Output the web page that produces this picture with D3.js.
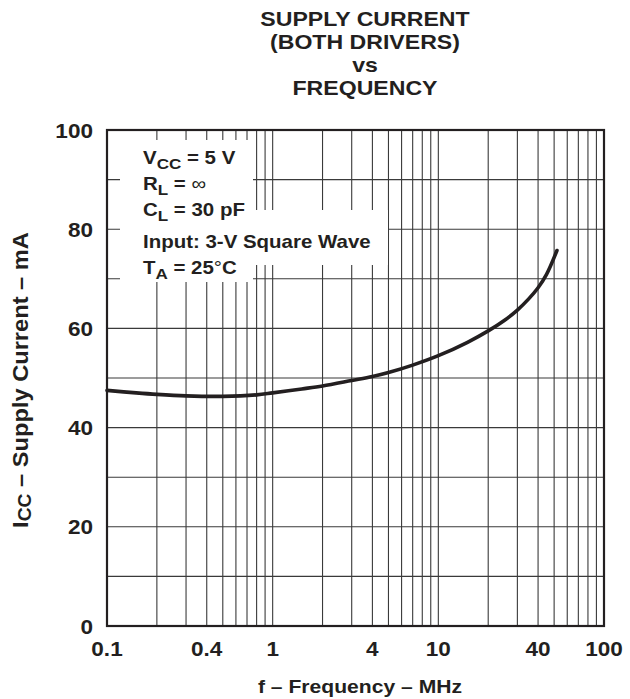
<!DOCTYPE html>
<html>
<head>
<meta charset="utf-8">
<script src="https://cdn.jsdelivr.net/npm/d3@7"></script>
<style>
  body { margin: 0; background: #fff; }
  text { font-family: "Liberation Sans", Arial, sans-serif; font-weight: bold; fill: #231f20; }
</style>
</head>
<body>
<svg width="630" height="699"></svg>
<script>
const svg = d3.select('svg');

// data
const freqMHz = [0.1, 0.15, 0.2, 0.3, 0.5, 0.8, 1, 1.5, 2, 3, 4, 5, 7, 10, 15, 20, 25, 30, 35, 40, 45, 52];
const iccMA   = [47.5, 47.0, 46.7, 46.4, 46.3, 46.6, 47.0, 47.8, 48.4, 49.5, 50.3, 51.1, 52.6, 54.5, 57.2, 59.5, 61.6, 63.7, 65.9, 68.2, 70.9, 75.7];

const xTickLabels = [0.1, 0.4, 1, 4, 10, 40, 100];
const yTickLabels = [0, 20, 40, 60, 80, 100];
const titleLines = ['SUPPLY CURRENT', '(BOTH DRIVERS)', 'vs', 'FREQUENCY'];

const margin = { top: 130, right: 26, bottom: 73, left: 107 };
const width = +svg.attr('width');
const height = +svg.attr('height');
const innerWidth = width - margin.left - margin.right;
const innerHeight = height - margin.top - margin.bottom;

const xScale = d3.scaleLog().domain([0.1, 100]).range([0, innerWidth]);
const yScale = d3.scaleLinear().domain([0, 100]).range([innerHeight, 0]);

// the source type is a bit wide: widen every text by this factor
const stretch = 1.1;
const widen = (sel) => sel.each(function() {
  const len = this.getComputedTextLength();
  d3.select(this)
    .attr('textLength', len * stretch)
    .attr('lengthAdjust', 'spacingAndGlyphs');
});

const g = svg.append('g')
  .attr('transform', `translate(${margin.left},${margin.top})`);

// grid
const vGrid = [];
[0.1, 1, 10].forEach(d => d3.range(1, 10).forEach(k => vGrid.push(k * d)));
vGrid.push(100);

g.selectAll('line.v-grid').data(vGrid).join('line')
  .attr('class', 'v-grid')
  .attr('x1', d => xScale(d)).attr('x2', d => xScale(d))
  .attr('y1', 0).attr('y2', innerHeight)
  .attr('stroke', '#3a3a3a').attr('stroke-width', 1.1);

g.selectAll('line.h-grid').data(d3.range(0, 101, 10)).join('line')
  .attr('class', 'h-grid')
  .attr('x1', 0).attr('x2', innerWidth)
  .attr('y1', d => yScale(d)).attr('y2', d => yScale(d))
  .attr('stroke', '#3a3a3a').attr('stroke-width', 1.1);

// white patch behind the conditions block
const patch = svg.append('g').attr('fill', '#fff');
patch.append('rect').attr('x', 120).attr('y', 140).attr('width', 133).attr('height', 142);
patch.append('rect').attr('x', 120).attr('y', 210).attr('width', 268).attr('height', 55);

// conditions text
const cond = svg.append('g');
const condLine = (y) => cond.append('text')
  .attr('x', 143).attr('y', y)
  .attr('font-size', 18.6);

const sub = (t, s) => {
  t.append('tspan').attr('font-size', 15.5).attr('dy', 5).text(s);
  return t.append('tspan').attr('dy', -5);
};

let t = condLine(164);
t.append('tspan').text('V');
sub(t, 'CC').text(' = 5 V');

t = condLine(190);
t.append('tspan').text('R');
sub(t, 'L').text(' = ');
t.append('tspan').attr('font-weight', 'normal').text('∞');

t = condLine(216);
t.append('tspan').text('C');
sub(t, 'L').text(' = 30 pF');

condLine(248).text('Input: 3-V Square Wave');

t = condLine(274);
t.append('tspan').text('T');
sub(t, 'A').text(' = 25');
t.append('tspan').attr('font-weight', 'normal').text('°');
t.append('tspan').text('C');

cond.selectAll('text').call(widen);

// curve
const line = d3.line()
  .x((d, i) => xScale(freqMHz[i]))
  .y(d => yScale(d))
  .curve(d3.curveCatmullRom.alpha(0.5));

g.append('path')
  .datum(iccMA)
  .attr('d', line)
  .attr('fill', 'none')
  .attr('stroke', '#231f20')
  .attr('stroke-width', 3.6)
  .attr('stroke-linecap', 'round');

// frame
g.append('rect')
  .attr('width', innerWidth).attr('height', innerHeight)
  .attr('fill', 'none').attr('stroke', '#231f20').attr('stroke-width', 2.2);

// tick labels
g.selectAll('text.x-tick').data(xTickLabels).join('text')
  .attr('class', 'x-tick')
  .attr('x', d => xScale(d))
  .attr('y', innerHeight + 30)
  .attr('text-anchor', 'middle')
  .attr('font-size', 20.5)
  .text(d => d)
  .call(widen);

g.selectAll('text.y-tick').data(yTickLabels).join('text')
  .attr('class', 'y-tick')
  .attr('x', -14)
  .attr('y', d => yScale(d) + 7.5)
  .attr('text-anchor', 'end')
  .attr('font-size', 20.5)
  .text(d => d)
  .call(widen);

// axis titles
svg.append('text')
  .attr('x', 360).attr('y', 693)
  .attr('text-anchor', 'middle')
  .attr('font-size', 19.2)
  .text('f – Frequency – MHz')
  .call(widen);

const yLabel = svg.append('text')
  .attr('transform', 'rotate(-90)')
  .attr('x', -380).attr('y', 28)
  .attr('text-anchor', 'middle')
  .attr('font-size', 21.5);
yLabel.append('tspan').text('I');
yLabel.append('tspan').attr('font-size', 17.5).attr('dy', 3).text('CC');
yLabel.append('tspan').attr('dy', -3).text(' – Supply Current – mA');
yLabel.call(widen);

// chart title
svg.selectAll('text.title').data(titleLines).join('text')
  .attr('class', 'title')
  .attr('x', 365)
  .attr('y', (d, i) => 26 + i * 23)
  .attr('text-anchor', 'middle')
  .attr('font-size', 21)
  .text(d => d)
  .call(widen);
</script>
</body>
</html>
